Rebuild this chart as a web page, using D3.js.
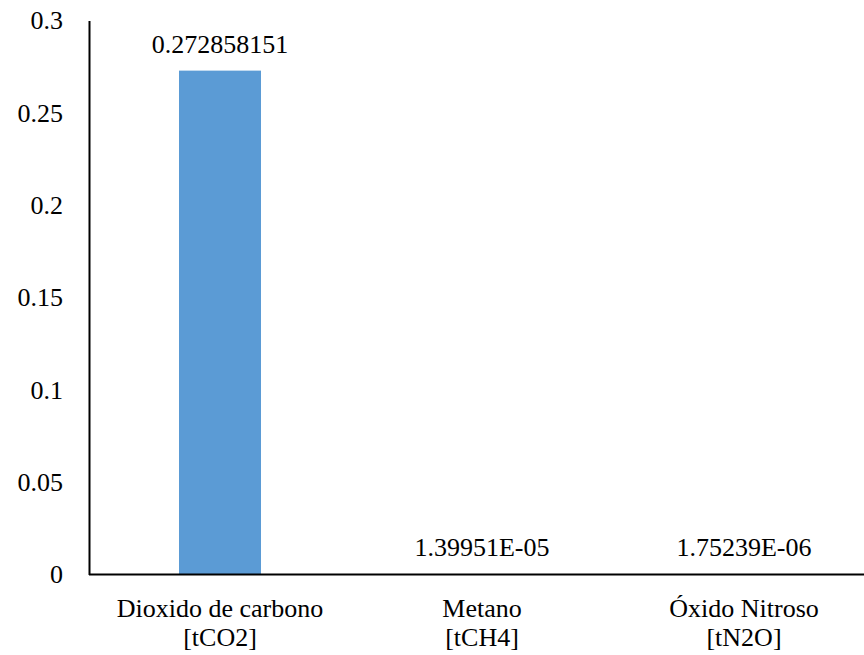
<!DOCTYPE html>
<html>
<head>
<meta charset="utf-8">
<script src="https://cdn.jsdelivr.net/npm/d3@7"></script>
<style>
  html, body { margin: 0; padding: 0; background: #fff; }
  svg { display: block; }
</style>
</head>
<body>
<svg id="chart" width="864" height="655"></svg>
<script>
// Emissions by gas
const categories = [["Dioxido de carbono", "[tCO2]"], ["Metano", "[tCH4]"], ["Óxido Nitroso", "[tN2O]"]];
const values = [0.272858151, 0.0000139951, 0.00000175239];
const valueLabels = ["0.272858151", "1.39951E-05", "1.75239E-06"];
const yTicks = [0, 0.05, 0.1, 0.15, 0.2, 0.25, 0.3];
const yTickLabels = ["0", "0.05", "0.1", "0.15", "0.2", "0.25", "0.3"];

const FONT = "Liberation Serif";
const fontSize = 26;
const svg = d3.select("#chart");
const plot = { left: 89, right: 875, top: 20.5, bottom: 574.5 };

const x = d3.scaleBand()
  .domain(d3.range(categories.length))
  .range([plot.left, plot.right])
  .paddingInner(0.687)
  .paddingOuter(0.687 / 2);

const y = d3.scaleLinear().domain([0, 0.3]).range([plot.bottom, plot.top]);

// bars
svg.append("g").selectAll("rect")
  .data(values)
  .join("rect")
  .attr("x", (d, i) => x(i))
  .attr("width", x.bandwidth())
  .attr("y", d => y(d))
  .attr("height", d => y(0) - y(d))
  .attr("fill", "#5B9BD5");

// y axis (labels only, no tick marks)
const yAxis = d3.axisLeft(y)
  .tickValues(yTicks)
  .tickFormat((d, i) => yTickLabels[i])
  .tickSize(0)
  .tickPadding(26);
const gy = svg.append("g").attr("transform", `translate(${plot.left},0)`).call(yAxis);
gy.attr("font-family", null).attr("font-size", null);
gy.select(".domain").attr("stroke", "#000").attr("stroke-width", 2);
gy.selectAll(".tick text")
  .attr("font-family", FONT)
  .attr("font-size", fontSize)
  .attr("fill", "#000");

// category baseline
svg.append("line")
  .attr("x1", plot.left).attr("x2", 864)
  .attr("y1", y(0)).attr("y2", y(0))
  .attr("stroke", "#000").attr("stroke-width", 2);

// value labels
svg.append("g").selectAll("text")
  .data(values)
  .join("text")
  .attr("font-family", FONT)
  .attr("font-size", fontSize)
  .attr("x", (d, i) => x(i) + x.bandwidth() / 2)
  .attr("y", d => y(d) - 18)
  .attr("text-anchor", "middle")
  .attr("fill", "#000")
  .text((d, i) => valueLabels[i]);

// category labels, two lines each
categories.forEach((lines, i) => {
  lines.forEach((line, j) => {
    svg.append("text")
      .attr("font-family", FONT)
      .attr("font-size", fontSize)
      .attr("x", x(i) + x.bandwidth() / 2)
      .attr("y", 617 + j * 29)
      .attr("text-anchor", "middle")
      .attr("fill", "#000")
      .text(line);
  });
});
</script>
</body>
</html>
